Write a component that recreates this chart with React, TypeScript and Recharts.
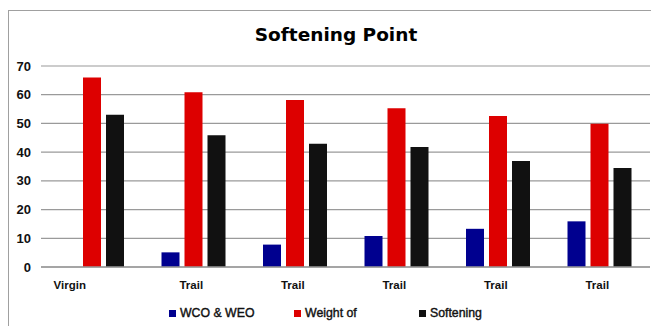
import { BarChart, Bar, XAxis, YAxis, CartesianGrid } from 'recharts';

const categories = ['Virgin', 'Trail', 'Trail', 'Trail', 'Trail', 'Trail'];
const wcoWeo = [0, 5.1, 7.8, 10.8, 13.3, 15.9];
const weightOf = [66, 60.9, 58.2, 55.3, 52.6, 49.9];
const softening = [53, 45.9, 42.9, 41.8, 36.9, 34.5];
const yTicks = [0, 10, 20, 30, 40, 50, 60, 70];

const SERIES = [
  { key: 'wco', name: 'WCO & WEO', color: '#00008f' },
  { key: 'weight', name: 'Weight of', color: '#dd0000' },
  { key: 'soft', name: 'Softening', color: '#111111' },
];

const data = categories.map((name, i) => ({
  name,
  wco: wcoWeo[i],
  weight: weightOf[i],
  soft: softening[i],
}));

const FONT = '"Liberation Sans", Arial, sans-serif';

const CategoryTick = ({ x, y, payload, index }: any) => {
  const shift = index === 0 ? -22 : -2;
  return (
    <text x={x + shift} y={y} dy="0.71em" textAnchor="middle" fill="#111" fontSize={11.5} fontWeight="bold" fontFamily={FONT}>
      {payload.value}
    </text>
  );
};

export default function App() {
  return (
    <div
      style={{
        position: 'relative',
        width: 651,
        height: 318,
        marginTop: 2,
        borderTop: '1px solid #a0a0a0',
        borderLeft: '1px solid #a0a0a0',
        background: '#fff',
        fontFamily: FONT,
      }}
    >
      <div
        style={{
          position: 'absolute',
          left: 0,
          top: 13,
          width: 654,
          textAlign: 'center',
          fontFamily: '"DejaVu Sans", sans-serif',
          fontWeight: 'bold',
          fontSize: 18.5,
          lineHeight: '22px',
          color: '#000',
        }}
      >
        Softening Point
      </div>
      <BarChart width={650} height={286} data={data} margin={{ top: 55, right: 9, bottom: 0, left: 0 }} barSize={18} barGap={5}>
        <CartesianGrid vertical={false} stroke="#9a9a9a" strokeWidth={1.2} />
        <XAxis
          dataKey="name"
          height={30}
          tickLine={false}
          tickSize={0}
          tickMargin={14}
          axisLine={{ stroke: '#999', strokeWidth: 1.5 }}
          tick={<CategoryTick />}
          interval={0}
        />
        <YAxis
          width={32}
          domain={[0, 70]}
          ticks={yTicks}
          axisLine={false}
          tickLine={false}
          tickSize={0}
          tickMargin={10}
          tick={{ fill: '#111', fontSize: 13, fontWeight: 'bold', fontFamily: FONT }}
        />
        {SERIES.map((s) => (
          <Bar key={s.key} dataKey={s.key} name={s.name} fill={s.color} isAnimationActive={false} />
        ))}
      </BarChart>
      <div style={{ position: 'absolute', left: 160, top: 295, display: 'flex' }}>
        {SERIES.map((s) => (
          <div
            key={s.key}
            style={{ width: 125, display: 'flex', alignItems: 'center', fontSize: 12.3, color: '#111', WebkitTextStroke: '0.4px #111' }}
          >
            <span style={{ display: 'inline-block', width: 7, height: 7, background: s.color, marginRight: 4 }} />
            {s.name}
          </div>
        ))}
      </div>
    </div>
  );
}
